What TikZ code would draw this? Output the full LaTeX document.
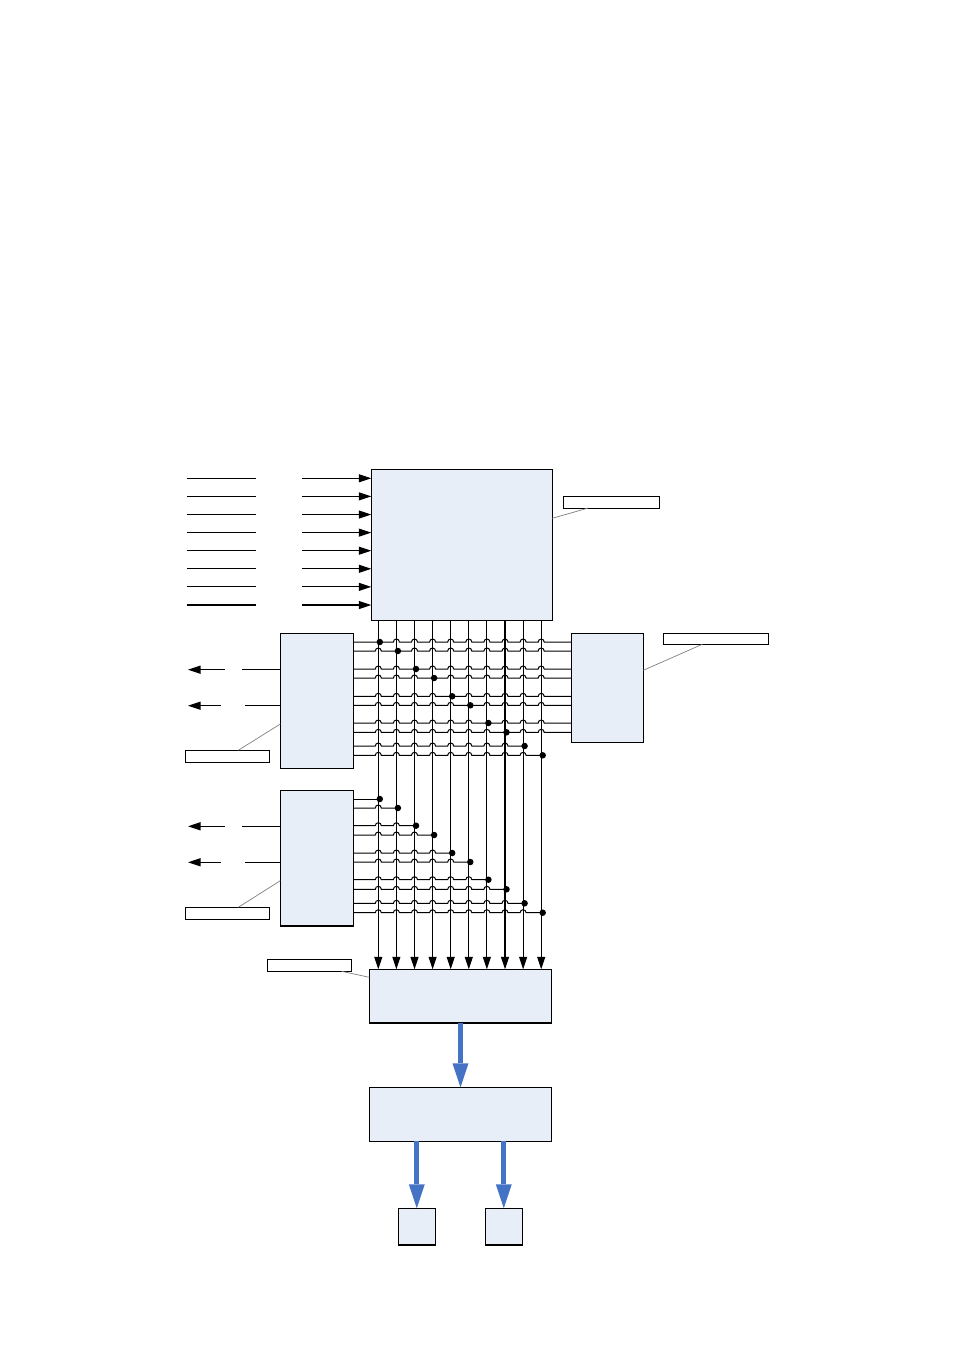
\documentclass[tikz,border=0pt]{standalone}
\usetikzlibrary{arrows.meta,positioning,calc}
\definecolor{blkfill}{RGB}{232,238,248}
\definecolor{busblue}{RGB}{68,114,196}
\newcommand\vx[1]{378.3+18.1*#1-18.1}
\tikzset{
	blk/.style={draw, fill=blkfill, line width=1.1pt, inner sep=0pt, outer sep=0pt, anchor=north west},
	tag/.style={draw, fill=white, line width=1pt, inner sep=0pt, outer sep=0pt, anchor=north west},
	lead/.style={draw=gray, line width=0.7pt},
	sig/.style={line width=1.1pt},
	sigin/.style={sig, -{Triangle[length=12.5pt, width=8pt]}},
	hop/.style={line width=1pt},
	tap/.style={circle, fill=black, inner sep=0pt, minimum size=6.5pt},
	bus/.style={busblue, line width=5pt, -{Triangle[length=24pt, width=16pt, line width=0pt]}},
}
\begin{document}
\begin{tikzpicture}[x=1pt, y=-1pt]
	\useasboundingbox (0,0) rectangle (954,1350);
	\node[blk, minimum width=181pt, minimum height=151pt] (core) at (371.3,469.3) {};
	\node[blk, minimum width=73.4pt, minimum height=135pt] (lp1) at (280.3,633.7) {};
	\node[blk, minimum width=73.4pt, minimum height=135.7pt] (lp2) at (280.3,790.3) {};
	\node[blk, minimum width=72pt, minimum height=108.7pt] (rp) at (571.3,633.7) {};
	\node[blk, minimum width=182.4pt, minimum height=53.7pt] (mux) at (369.3,969.3) {};
	\node[blk, minimum width=182.4pt, minimum height=54pt] (dec) at (369.3,1087.3) {};
	\node[blk, minimum width=37pt, minimum height=36.7pt] (out1) at (398.3,1208.3) {};
	\node[blk, minimum width=37pt, minimum height=36.7pt] (out2) at (485.3,1208.3) {};

	\node[tag, minimum width=96pt, minimum height=11.7pt] (tcore) at (563.3,496.3) {};
	\node[tag, minimum width=105.4pt, minimum height=10.6pt] (trp) at (663.3,633.7) {};
	\node[tag, minimum width=84pt, minimum height=12pt] (tlp1) at (185.3,750.3) {};
	\node[tag, minimum width=84pt, minimum height=12pt] (tlp2) at (185.3,907.3) {};
	\node[tag, minimum width=84pt, minimum height=12pt] (tmux) at (267.3,959.3) {};
	\draw[lead] ([xshift=25pt]tcore.south west) -- ([yshift=-49pt]core.north east);
	\draw[lead] ([xshift=39pt]trp.south west) -- ([yshift=-36.6pt]rp.north east);
	\draw[lead] ([xshift=53pt]tlp1.north west) -- ([yshift=-90.3pt]lp1.north west);
	\draw[lead] ([xshift=53pt]tlp2.north west) -- ([yshift=-90.4pt]lp2.north west);
	\draw[lead] ([xshift=74.4pt]tmux.south west) -- ([yshift=-8pt]mux.north west);

	\foreach \k in {0,...,7} {
		\coordinate (src\k) at (186.7,478.3+18.1*\k);
		\coordinate (in\k) at (302,478.3+18.1*\k);
		\draw[sig] (src\k) -- ++(69,0);
		\draw[sigin] (in\k) -- (in\k -| core.west);
	}
	\foreach \b in {lp1,lp2} {
		\coordinate (\b-o1) at ([yshift=-36pt]\b.north west);
		\coordinate (\b-o2) at ([yshift=-72pt]\b.north west);
		\draw[sig] (\b-o1) -- ++(-38.3,0);
		\draw[sigin] ([xshift=-55.3pt]\b-o1) -- ++(-37,0);
		\draw[sig] (\b-o2) -- ++(-35.3,0);
		\draw[sigin] ([xshift=-59.3pt]\b-o2) -- ++(-33,0);
	}

	\foreach \j in {1,...,10} {
		\coordinate (v\j) at (\vx{\j},0);
		\draw[sigin] (v\j |- core.south) -- (v\j |- mux.north);
	}

	\foreach \y [count=\i] in {642,651,669,678,696.3,705.3,723,732.3} {
		\draw[hop] (lp1.east |- 0,\y)
			\foreach \j in {1,...,10} { -- (\vx{\j}-3,\y) arc[start angle=180, end angle=0, x radius=3pt, y radius={3pt*(\j!=\i)}] }
			-- (rp.west |- 0,\y);
		\node[tap] (lp1-tap\i) at (\vx{\i}+1.5,\y) {};
	}
	\foreach \src/\y/\i in {lp1/746/9, lp1/755.3/10, lp2/799/1, lp2/808/2, lp2/825.7/3, lp2/835/4, lp2/853/5, lp2/862/6, lp2/879.7/7, lp2/889.3/8, lp2/903.3/9, lp2/912.7/10} {
		\draw[hop] (\src.east |- 0,\y)
			\foreach \j in {1,...,\i} { -- (\vx{\j}-3,\y) arc[start angle=180, end angle=0, x radius=3pt, y radius={3pt*(\j<\i)}] };
		\node[tap] (\src-tap\i) at (\vx{\i}+1.5,\y) {};
	}

	\draw[bus] (mux.south) -- (dec.north);
	\draw[bus] (out1.north |- dec.south) -- (out1.north);
	\draw[bus] (out2.north |- dec.south) -- (out2.north);
\end{tikzpicture}
\end{document}
